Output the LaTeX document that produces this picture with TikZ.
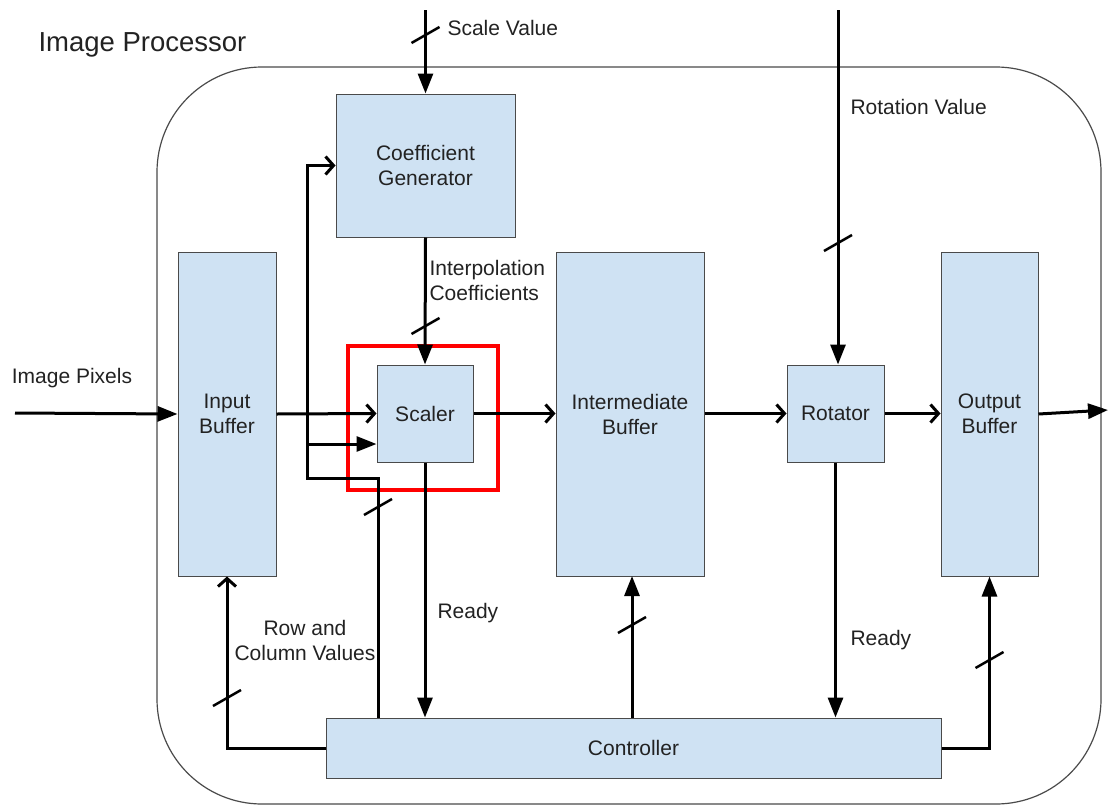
\documentclass[tikz,border=0pt]{standalone}
\usepackage{fontspec}
\setmainfont{Liberation Sans}
\usetikzlibrary{arrows.meta}
\definecolor{boxfill}{HTML}{CFE2F3}
\definecolor{boxline}{HTML}{4A4A4A}
\definecolor{txtgray}{HTML}{222222}

\tikzset{busmark/.pic={\draw[line width=2.5pt] (-14,8) -- (14,-8);}}

\begin{document}
\begin{tikzpicture}[x=1pt,y=-1pt,
	every node/.style={font=\fontsize{21}{25}\selectfont,text=txtgray,align=center},
	block/.style={draw=boxline,fill=boxfill,line width=1pt,inner sep=0pt},
	wire/.style={line width=3pt},
	tip/.style={wire,-{Triangle[length=20pt,width=15pt]}},
	opentip/.style={wire,-{Straight Barb[length=8pt,width=18pt]}}
	]
	\useasboundingbox (0,0) rectangle (1116,806);
	% outer frame
	\draw[boxline,line width=1.2pt,rounded corners=105pt] (157,67) rectangle (1101,804);
	\node[anchor=west,font=\fontsize{27.5}{30}\selectfont] (title) at (35,45) {Image Processor};

	% blocks
	\node[block,minimum width=179pt,minimum height=143pt] (coef) at (425.5,165.5) {Coefficient\\Generator};
	\node[block,minimum width=98pt,minimum height=324pt] (inbuf) at (227,414) {Input\\Buffer};
	\node[block,minimum width=96pt,minimum height=97pt] (scaler) at (425,413.5) {Scaler};
	\node[block,minimum width=148pt,minimum height=324pt] (midbuf) at (630,414) {Intermediate\\Buffer};
	\node[block,minimum width=97pt,minimum height=97pt] (rot) at (835.5,413.5) {Rotator};
	\node[block,minimum width=97pt,minimum height=324pt] (outbuf) at (989.5,414) {Output\\Buffer};
	\node[block,minimum width=615pt,minimum height=60pt] (ctrl) at (633.5,748) {Controller};
	\node[draw=red,line width=4.5pt,minimum width=150pt,minimum height=144pt] (focus) at (423,418) {};

	% free ends
	\coordinate (pxin) at (15,413);
	\coordinate (pxout) at (1108,410);
	\coordinate (scalein) at (425.5,10);
	\coordinate (rotin) at (838,10);
	\coordinate (fbup) at (378,478);
	\coordinate (fbleft) at (307,478);
	\coordinate (fbtap) at (307,444);

	% data path
	\draw[tip] (pxin) -- (inbuf.west);
	\draw[opentip] (inbuf.east) -- (scaler.west);
	\draw[opentip] (scaler.east) -- (scaler.east -| midbuf.west);
	\draw[opentip] (midbuf.east |- rot.west) -- (rot.west);
	\draw[opentip] (rot.east) -- (rot.east -| outbuf.west);
	\draw[tip] (outbuf.east) -- (pxout);

	% control signals
	\draw[tip] (scalein) -- (coef.north);
	\draw[tip] (coef.south) -- (scaler.north);
	\draw[tip] (rotin) -- (rotin |- rot.north);
	\draw[opentip] (fbup |- ctrl.north) -- (fbup) -- (fbleft) |- (coef.west);
	\draw[tip] (fbtap) -- (fbtap -| scaler.west);
	\draw[tip] (scaler.south) -- (scaler.south |- ctrl.north);
	\draw[tip] (rot.south) -- (rot.south |- ctrl.north);
	\draw[tip] (ctrl.north -| 632,0) -- (632,576);
	\draw[tip] (ctrl.east) -| (outbuf.south);
	\draw[opentip] (ctrl.west) -| (inbuf.south);

	% bus marks
	\pic at (425.5,35) {busmark};
	\pic at (425.5,326) {busmark};
	\pic at (378,507) {busmark};
	\pic at (838,243) {busmark};
	\pic at (632,625) {busmark};
	\pic at (989.5,660) {busmark};
	\pic at (227,698) {busmark};

	% labels
	\node (pxlabel) at (72,378) {Image Pixels};
	\node[anchor=west] (scalelabel) at (444,28) {Scale Value};
	\node[anchor=west] (rotlabel) at (847,107) {Rotation Value};
	\node[anchor=west,align=left] (coeflabel) at (426,280) {Interpolation\\Coefficients};
	\node[anchor=west] (ready1) at (434,613) {Ready};
	\node[anchor=west] (ready2) at (847,640) {Ready};
	\node (rowcol) at (305,640) {Row and\\Column Values};
\end{tikzpicture}
\end{document}
